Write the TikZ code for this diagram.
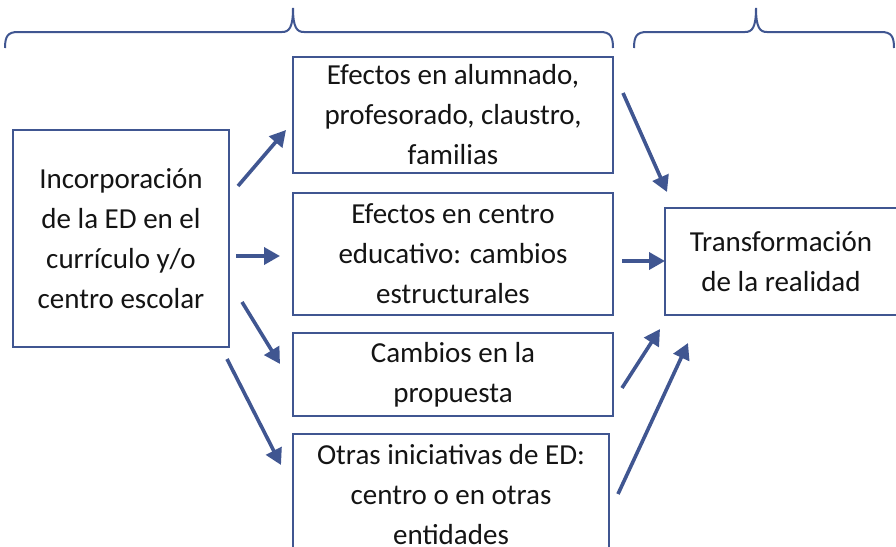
\documentclass[tikz,border=0pt]{standalone}
\usepackage{fontspec}
\setmainfont{Carlito}
\usetikzlibrary{arrows.meta}
\definecolor{edblue}{RGB}{64,86,145}
\definecolor{edtext}{RGB}{20,20,20}
\begin{document}
\begin{tikzpicture}[x=1pt,y=-1pt,
  box/.style={draw=edblue,line width=2.5pt,inner sep=0pt,align=center,
    text=edtext,font=\fontsize{29}{40}\selectfont},
  arr/.style={draw=edblue,line width=3.6pt,-{Triangle[length=16pt,width=17pt]}},
  brace/.style={draw=edblue,line width=2pt}]
\useasboundingbox[fill=white] (0,0) rectangle (896,546);

% boxes
\node[box,minimum width=216pt,minimum height=217pt] (inc) at (121,238.5)
  {Incorporación\\de la ED en el\\currículo y/o\\centro escolar};
\node[box,minimum width=320pt,minimum height=116pt] (alu) at (453,115)
  {Efectos en alumnado,\\profesorado, claustro,\\familias};
\node[box,minimum width=320pt,minimum height=122pt] (cen) at (453,254)
  {Efectos en centro\\educativo: cambios\\estructurales};
\node[box,minimum width=320pt,minimum height=83pt] (pro) at (453,374.5)
  {Cambios en la\\propuesta};
\node[box,minimum width=316pt,minimum height=122pt] (otr) at (451,495)
  {Otras iniciativas de ED:\\centro o en otras\\entidades};
\node[box,minimum width=232pt,minimum height=107pt] (tra) at (781,261.5)
  {Transformación\\de la realidad};

% arrow end points
\coordinate (a1s) at (238,186); \coordinate (a1e) at (286,130);
\coordinate (a2s) at (236,256); \coordinate (a2e) at (280,256);
\coordinate (a3s) at (242,302); \coordinate (a3e) at (280,364);
\coordinate (a4s) at (227,359); \coordinate (a4e) at (281,465);
\coordinate (b1s) at (623,93);  \coordinate (b1e) at (667,192);
\coordinate (b2s) at (622,261); \coordinate (b2e) at (665,261);
\coordinate (b3s) at (622,388); \coordinate (b3e) at (660,329);
\coordinate (b4s) at (618,494); \coordinate (b4e) at (688,343);

\draw[arr] (a1s) -- (a1e);
\draw[arr] (a2s) -- (a2e);
\draw[arr] (a3s) -- (a3e);
\draw[arr] (a4s) -- (a4e);
\draw[arr] (b1s) -- (b1e);
\draw[arr] (b2s) -- (b2e);
\draw[arr] (b3s) -- (b3e);
\draw[arr] (b4s) -- (b4e);

% braces
\draw[brace] (5,48) .. controls (5,36) and (8,32) .. (18,32)
  -- (282,32) .. controls (289,32) and (293,28) .. (293,8)
  .. controls (293,28) and (297,32) .. (304,32)
  -- (600,32) .. controls (610,32) and (613,36) .. (613,48);
\draw[brace] (634,48) .. controls (634,36) and (637,32) .. (647,32)
  -- (745,32) .. controls (752,32) and (756,28) .. (756,8)
  .. controls (756,28) and (760,32) .. (767,32)
  -- (881,32) .. controls (891,32) and (894,36) .. (894,48);
\end{tikzpicture}
\end{document}
